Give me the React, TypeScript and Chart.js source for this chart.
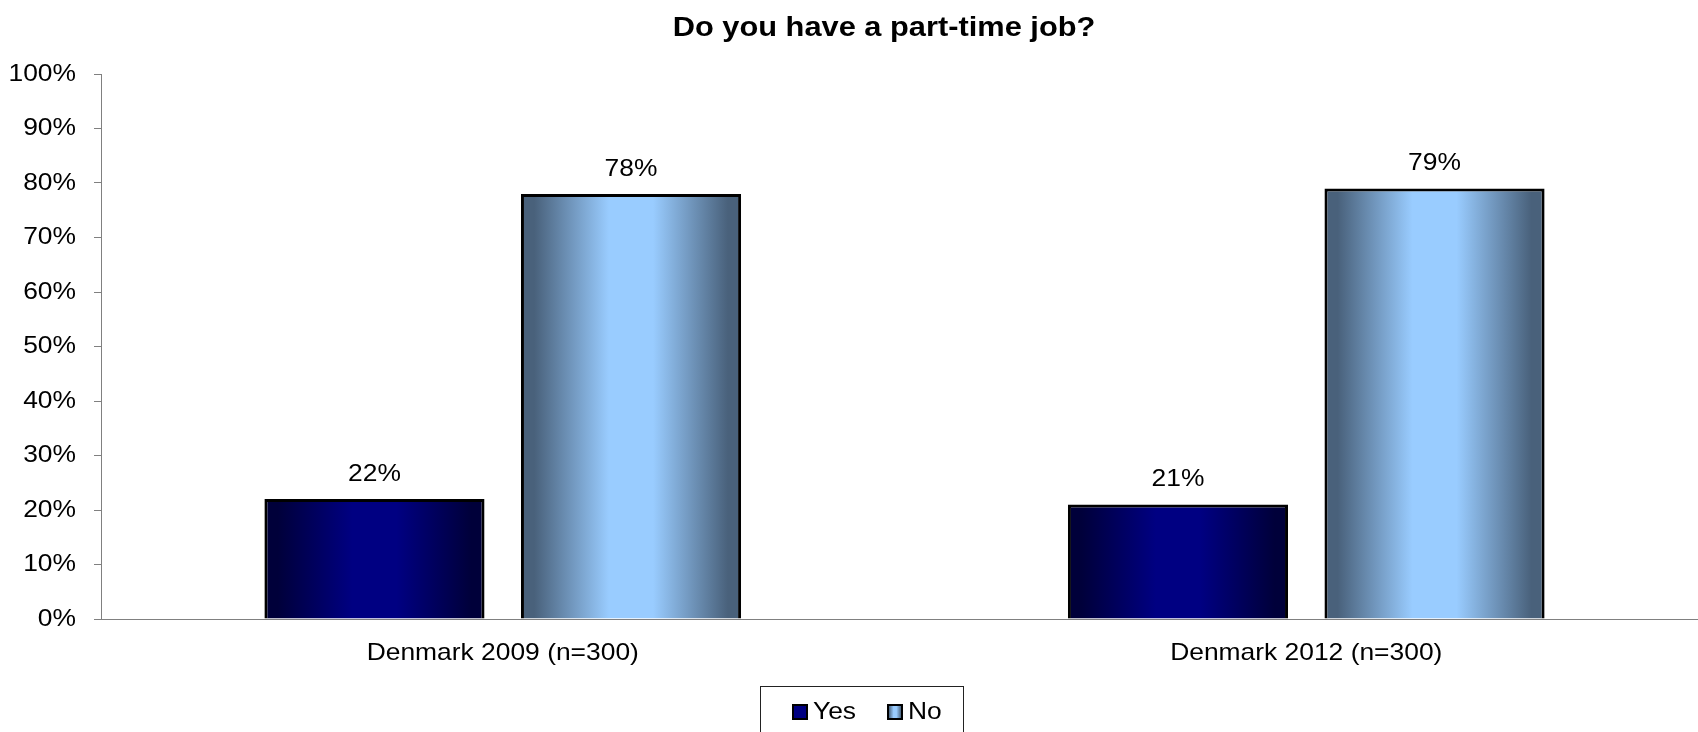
import React, { useEffect, useRef } from 'react';
import { Chart, registerables } from 'chart.js';

Chart.register(...registerables);

// ---- data ----
const TITLE = 'Do you have a part-time job?';
const categories = ['Denmark 2009 (n=300)', 'Denmark 2012 (n=300)'];
const seriesNames = ['Yes', 'No'];
const yesValues = [22, 21];
const noValues = [78, 79];
const yMin = 0;
const yMax = 100;
const yStep = 10;

// ---- style ----
const FONT = '"Liberation Sans", Arial, sans-serif';
const SX = 1.1;
const CANVAS_W = 1708;
const CANVAS_H = 732;
const palettes: Record<string, { edge: string; mid: string }> = {
  Yes: { edge: '#00003a', mid: '#000082' },
  No: { edge: '#49617b', mid: '#99ccff' },
};

function drawText(
  ctx: CanvasRenderingContext2D,
  text: string,
  x: number,
  y: number,
  align: CanvasTextAlign,
  font: string,
  color = '#000'
) {
  ctx.save();
  ctx.font = font;
  ctx.fillStyle = color;
  ctx.textAlign = align;
  ctx.textBaseline = 'middle';
  ctx.translate(x, y);
  ctx.scale(SX, 1);
  ctx.fillText(text, 0, 0);
  ctx.restore();
}

function makeGradient(ctx: CanvasRenderingContext2D, x0: number, x1: number, pal: { edge: string; mid: string }) {
  const g = ctx.createLinearGradient(x0, 0, x1, 0);
  g.addColorStop(0, pal.edge);
  g.addColorStop(0.06, pal.edge);
  g.addColorStop(0.4, pal.mid);
  g.addColorStop(0.6, pal.mid);
  g.addColorStop(0.94, pal.edge);
  g.addColorStop(1, pal.edge);
  return g;
}

const decor = {
  id: 'decor',
  beforeDatasetsDraw(chart: any) {
    const ctx = chart.ctx as CanvasRenderingContext2D;
    chart.data.datasets.forEach((ds: any, di: number) => {
      const meta = chart.getDatasetMeta(di);
      const pal = palettes[ds.label];
      meta.data.forEach((el: any) => {
        const { x, width } = el.getProps(['x', 'width'], true);
        const g = makeGradient(ctx, x - width / 2, x + width / 2, pal);
        if (Object.isFrozen(el.options)) {
          el.options = Object.assign({}, el.options, { backgroundColor: g });
        } else {
          el.options.backgroundColor = g;
        }
      });
    });
  },
  afterDatasetsDraw(chart: any) {
    const ctx = chart.ctx as CanvasRenderingContext2D;
    chart.data.datasets.forEach((ds: any, di: number) => {
      const meta = chart.getDatasetMeta(di);
      meta.data.forEach((el: any, i: number) => {
        const { x, y } = el.getProps(['x', 'y'], true);
        drawText(ctx, ds.data[i] + '%', x, y - 25, 'center', `24px ${FONT}`);
      });
    });
  },
  afterDraw(chart: any) {
    const ctx = chart.ctx as CanvasRenderingContext2D;
    const area = chart.chartArea;
    // title
    drawText(ctx, TITLE, 884, 28, 'center', `bold 28px ${FONT}`);
    // y tick labels
    const ys = chart.scales.y;
    ys.ticks.forEach((t: any) => {
      drawText(ctx, t.value + '%', area.left - 25, ys.getPixelForValue(t.value), 'right', `24px ${FONT}`);
    });
    // x category labels
    const xs = chart.scales.x;
    categories.forEach((c, i) => {
      drawText(ctx, c, xs.getPixelForValue(i), 653, 'center', `24px ${FONT}`);
    });
    // legend
    ctx.save();
    ctx.strokeStyle = '#222';
    ctx.lineWidth = 1;
    ctx.strokeRect(760.5, 686.5, 203, 60);
    const items = [
      { name: seriesNames[0], bx: 793, tx: 813 },
      { name: seriesNames[1], bx: 888, tx: 908 },
    ];
    items.forEach((it) => {
      const pal = palettes[it.name];
      ctx.fillStyle = it.name === 'Yes' ? pal.mid : makeGradient(ctx, it.bx, it.bx + 14, pal);
      ctx.fillRect(it.bx, 705, 14, 14);
      ctx.strokeStyle = '#000';
      ctx.lineWidth = 2;
      ctx.strokeRect(it.bx, 705, 14, 14);
      drawText(ctx, it.name, it.tx, 712, 'left', `24px ${FONT}`);
    });
    ctx.restore();
  },
};

export default function App() {
  const ref = useRef<HTMLCanvasElement | null>(null);

  useEffect(() => {
    document.body.style.margin = '0';
    document.body.style.overflow = 'hidden';
    document.documentElement.style.overflow = 'hidden';
    const canvas = ref.current!;
    const chart = new Chart(canvas, {
      type: 'bar',
      data: {
        labels: categories,
        datasets: [
          {
            label: seriesNames[0],
            data: yesValues,
            backgroundColor: () => palettes.Yes.mid,
            borderColor: '#000',
            borderWidth: 3,
            categoryPercentage: 0.6386,
            barPercentage: 0.858,
          },
          {
            label: seriesNames[1],
            data: noValues,
            backgroundColor: () => palettes.No.mid,
            borderColor: '#000',
            borderWidth: 3,
            categoryPercentage: 0.6386,
            barPercentage: 0.858,
          },
        ],
      },
      options: {
        responsive: false,
        animation: false,
        devicePixelRatio: 1,
        layout: { padding: { left: 0, top: 74, right: 0, bottom: 0 } },
        plugins: {
          legend: { display: false },
          title: { display: false },
          tooltip: { enabled: false },
        },
        scales: {
          x: {
            grid: { display: false },
            border: { display: true, color: '#808080', width: 1 },
            ticks: { display: false },
            afterFit: (s: any) => {
              s.height = 113;
            },
          },
          y: {
            min: yMin,
            max: yMax,
            ticks: { display: false, stepSize: yStep },
            grid: {
              display: true,
              drawOnChartArea: false,
              drawTicks: true,
              tickLength: 7,
              color: '#808080',
            },
            border: { display: true, color: '#808080', width: 1 },
            afterFit: (s: any) => {
              s.width = 101;
            },
          },
        },
      },
      plugins: [decor],
    });
    return () => chart.destroy();
  }, []);

  return (
    <canvas
      ref={ref}
      width={CANVAS_W}
      height={CANVAS_H}
      style={{ display: 'block', width: CANVAS_W, height: CANVAS_H }}
    />
  );
}
